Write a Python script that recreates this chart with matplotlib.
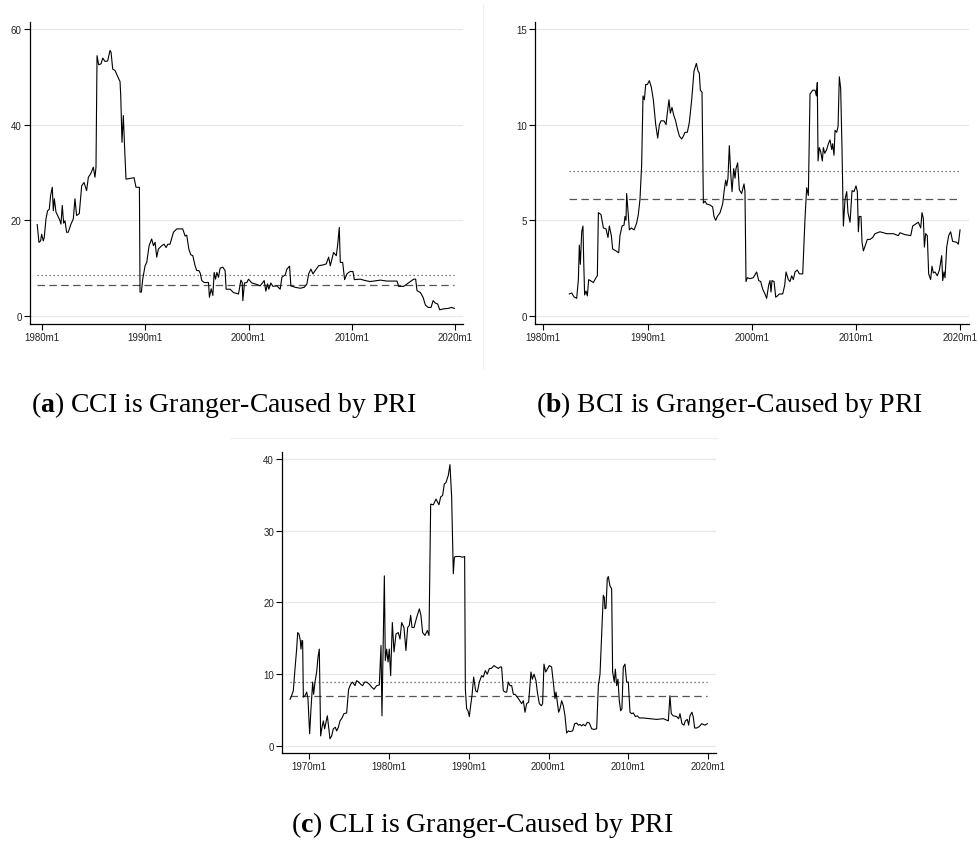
import matplotlib
matplotlib.use("Agg")
import matplotlib.pyplot as plt
from matplotlib.lines import Line2D

plt.rcParams["font.family"] = "Liberation Sans"
plt.rcParams["mathtext.fontset"] = "custom"
plt.rcParams["mathtext.rm"] = "Liberation Serif"
plt.rcParams["mathtext.bf"] = "Liberation Serif:bold"

# (a) CCI is Granger-Caused by PRI  (decimal year, test statistic)
cci_year = [1979.51, 1979.68, 1979.84, 1979.94, 1980.10, 1980.19, 1980.36, 1980.52, 1980.68, 1980.81,
            1980.97, 1981.07, 1981.17, 1981.33, 1981.49, 1981.72, 1981.81, 1981.94, 1982.07, 1982.20,
            1982.36, 1982.52, 1982.78, 1983.01, 1983.17, 1983.33, 1983.59, 1983.82, 1984.05, 1984.30,
            1984.47, 1984.69, 1984.95, 1985.11, 1985.21, 1985.31, 1985.47, 1985.70, 1985.86, 1986.08,
            1986.34, 1986.57, 1986.67, 1986.83, 1987.06, 1987.28, 1987.54, 1987.61, 1987.73, 1987.86,
            1987.99, 1988.12, 1988.67, 1988.90, 1989.09, 1989.42, 1989.48, 1989.61, 1989.74, 1989.97,
            1990.13, 1990.36, 1990.61, 1990.78, 1990.94, 1991.10, 1991.26, 1991.59, 1991.81, 1992.01,
            1992.17, 1992.39, 1992.72, 1993.04, 1993.62, 1993.85, 1994.01, 1994.21, 1994.40, 1994.60,
            1994.82, 1994.98, 1995.18, 1995.31, 1995.47, 1995.70, 1996.12, 1996.21, 1996.38, 1996.54,
            1996.67, 1996.80, 1996.93, 1997.09, 1997.25, 1997.51, 1997.73, 1997.83, 1998.22, 1998.54,
            1999.03, 1999.26, 1999.39, 1999.45, 1999.61, 1999.84, 2000.00, 2000.32, 2000.81, 2001.13,
            2001.52, 2001.68, 2001.84, 2001.97, 2002.17, 2002.36, 2002.75, 2003.07, 2003.24, 2003.56,
            2003.72, 2003.98, 2004.11, 2004.53, 2005.02, 2005.40, 2005.66, 2005.83, 2006.05, 2006.25,
            2006.47, 2006.80, 2007.28, 2007.54, 2007.77, 2007.93, 2008.25, 2008.51, 2008.64, 2008.80,
            2008.90, 2009.13, 2009.32, 2009.55, 2009.71, 2009.87, 2010.13, 2010.26, 2010.84, 2011.33,
            2011.81, 2012.78, 2013.43, 2014.40, 2014.56, 2015.05, 2015.37, 2016.02, 2016.21, 2016.34,
            2016.67, 2016.93, 2017.15, 2017.41, 2017.70, 2017.90, 2018.12, 2018.35, 2018.54, 2018.93,
            2019.42, 2019.64, 2019.97]
cci_stat = [19.1, 15.4, 15.7, 17.1, 15.7, 16.4, 20.3, 22.0, 22.3, 25.2,
            26.9, 22.0, 24.5, 21.7, 21.0, 19.9, 19.2, 23.1, 19.4, 19.9,
            17.5, 17.5, 19.2, 20.3, 24.5, 21.0, 21.4, 27.2, 27.9, 26.2,
            29.0, 29.7, 31.1, 29.0, 31.1, 54.4, 52.5, 52.7, 53.9, 53.2,
            53.3, 55.5, 55.1, 51.6, 51.3, 50.2, 49.0, 46.0, 36.3, 41.9,
            34.9, 28.6, 28.8, 28.9, 26.9, 26.9, 5.0, 5.0, 7.7, 10.5,
            11.2, 14.7, 16.1, 14.7, 15.4, 12.3, 14.0, 14.7, 15.0, 14.3,
            15.0, 15.0, 17.5, 18.2, 18.2, 16.7, 16.9, 14.0, 12.8, 12.6,
            10.5, 9.5, 9.5, 9.0, 7.4, 7.0, 7.0, 3.9, 5.7, 4.3,
            9.1, 7.7, 9.1, 8.1, 10.0, 10.2, 9.5, 5.6, 5.6, 4.9,
            4.6, 7.5, 7.0, 3.2, 6.9, 7.0, 7.7, 6.9, 6.6, 6.3,
            7.4, 5.2, 6.7, 5.6, 6.9, 6.2, 6.3, 5.6, 8.1, 8.6,
            9.8, 10.4, 6.3, 6.0, 5.8, 6.0, 6.7, 8.8, 9.8, 8.8,
            9.5, 10.5, 10.7, 10.9, 12.3, 10.5, 13.3, 12.6, 14.7, 18.5,
            11.2, 11.2, 7.6, 8.8, 9.1, 9.3, 9.3, 7.6, 7.7, 7.4,
            7.2, 7.5, 7.3, 7.3, 6.2, 6.2, 6.7, 7.7, 7.7, 5.3,
            4.9, 3.9, 2.3, 1.8, 1.8, 3.2, 2.7, 2.5, 1.3, 1.5,
            1.6, 1.8, 1.6]

# (b) BCI is Granger-Caused by PRI
bci_year = [1982.49, 1982.72, 1982.94, 1983.20, 1983.36, 1983.45, 1983.55, 1983.68, 1983.80, 1983.87,
            1983.96, 1984.09, 1984.22, 1984.35, 1984.64, 1984.80, 1985.05, 1985.18, 1985.28, 1985.53,
            1985.76, 1986.01, 1986.20, 1986.33, 1986.52, 1986.65, 1986.97, 1987.23, 1987.35, 1987.55,
            1987.74, 1987.83, 1987.93, 1987.99, 1988.12, 1988.25, 1988.44, 1988.70, 1988.95, 1989.11,
            1989.27, 1989.43, 1989.56, 1989.69, 1989.82, 1989.98, 1990.17, 1990.36, 1990.55, 1990.78,
            1990.97, 1991.13, 1991.29, 1991.57, 1991.77, 1991.89, 1992.05, 1992.18, 1992.34, 1992.50,
            1992.69, 1992.85, 1993.05, 1993.27, 1993.43, 1993.59, 1993.81, 1994.00, 1994.23, 1994.45,
            1994.68, 1994.84, 1994.96, 1995.06, 1995.22, 1995.35, 1995.51, 1995.67, 1995.99, 1996.24,
            1996.37, 1996.53, 1996.69, 1996.95, 1997.20, 1997.36, 1997.49, 1997.59, 1997.71, 1997.84,
            1997.97, 1998.10, 1998.26, 1998.39, 1998.48, 1998.64, 1998.80, 1999.02, 1999.25, 1999.34,
            1999.44, 1999.57, 1999.82, 2000.14, 2000.46, 2000.66, 2000.85, 2001.04, 2001.26, 2001.42,
            2001.61, 2001.74, 2001.84, 2001.93, 2002.13, 2002.29, 2002.45, 2002.64, 2002.96, 2003.15,
            2003.28, 2003.50, 2003.66, 2003.82, 2003.98, 2004.14, 2004.36, 2004.56, 2004.88, 2005.10,
            2005.26, 2005.42, 2005.58, 2005.84, 2006.06, 2006.19, 2006.28, 2006.35, 2006.47, 2006.60,
            2006.76, 2006.86, 2006.99, 2007.18, 2007.34, 2007.50, 2007.66, 2007.75, 2007.88, 2007.98,
            2008.14, 2008.27, 2008.39, 2008.52, 2008.65, 2008.78, 2008.94, 2009.10, 2009.22, 2009.42,
            2009.61, 2009.80, 2009.99, 2010.12, 2010.22, 2010.31, 2010.47, 2010.57, 2010.70, 2010.89,
            2011.08, 2011.33, 2011.59, 2011.81, 2012.29, 2012.93, 2013.57, 2014.05, 2014.21, 2014.69,
            2015.24, 2015.43, 2015.97, 2016.20, 2016.32, 2016.45, 2016.55, 2016.67, 2016.83, 2016.96,
            2017.15, 2017.28, 2017.41, 2017.57, 2017.79, 2017.99, 2018.21, 2018.31, 2018.43, 2018.53,
            2018.69, 2018.88, 2019.07, 2019.26, 2019.65, 2019.81, 2019.97]
bci_stat = [1.15, 1.2, 1.0, 0.92, 1.9, 3.7, 2.7, 4.4, 4.7, 2.9,
            1.1, 1.3, 1.05, 1.9, 1.8, 1.75, 2.0, 2.1, 5.4, 5.3,
            4.6, 4.55, 4.1, 4.7, 4.2, 3.5, 3.4, 3.3, 4.2, 4.7,
            4.75, 5.2, 5.0, 6.4, 5.5, 4.5, 4.6, 4.5, 4.85, 5.3,
            6.1, 7.9, 11.5, 11.3, 12.1, 12.1, 12.3, 11.95, 11.3, 10.0,
            9.3, 10.0, 10.2, 10.2, 10.0, 10.6, 11.3, 10.6, 10.9, 10.5,
            10.2, 9.8, 9.4, 9.25, 9.4, 9.6, 9.6, 10.1, 11.3, 12.8,
            13.2, 12.8, 12.7, 11.8, 11.7, 5.9, 6.0, 5.85, 5.8, 5.7,
            5.2, 5.0, 5.2, 5.4, 5.85, 6.6, 7.1, 6.8, 7.2, 8.9,
            7.5, 6.5, 7.7, 7.2, 7.7, 8.0, 6.6, 6.4, 6.9, 6.5,
            1.8, 2.0, 1.95, 2.0, 2.3, 1.85, 1.8, 1.4, 1.15, 0.92,
            1.6, 1.85, 1.25, 1.85, 1.8, 0.98, 1.05, 1.15, 1.15, 1.6,
            2.3, 1.9, 1.8, 2.1, 1.9, 2.3, 2.4, 2.2, 2.2, 5.1,
            6.7, 6.3, 11.6, 11.8, 11.8, 11.5, 12.2, 8.1, 8.8, 8.6,
            8.1, 8.8, 8.5, 8.7, 9.0, 9.2, 8.7, 9.0, 8.4, 9.7,
            9.6, 9.9, 12.5, 11.9, 8.7, 4.7, 6.1, 6.5, 5.4, 4.9,
            6.55, 6.5, 6.8, 6.5, 4.4, 5.2, 5.2, 3.85, 3.4, 3.7,
            4.0, 4.0, 4.1, 4.3, 4.4, 4.3, 4.3, 4.2, 4.35, 4.25,
            4.2, 4.7, 4.9, 4.6, 5.4, 5.1, 3.6, 4.3, 4.2, 2.2,
            1.9, 2.6, 2.25, 2.3, 2.1, 2.4, 3.15, 1.85, 2.3, 2.0,
            3.6, 4.2, 4.4, 3.9, 3.85, 3.75, 4.5]

# (c) CLI is Granger-Caused by PRI
cli_year = [1967.58, 1967.78, 1967.99, 1968.20, 1968.41, 1968.54, 1968.70, 1968.87, 1968.95, 1969.08,
            1969.16, 1969.25, 1969.46, 1969.67, 1969.83, 1970.04, 1970.21, 1970.42, 1970.54, 1970.71,
            1970.92, 1971.09, 1971.25, 1971.42, 1971.59, 1971.76, 1971.92, 1972.09, 1972.26, 1972.42,
            1972.59, 1972.80, 1973.01, 1973.26, 1973.43, 1973.64, 1973.85, 1974.10, 1974.35, 1974.68,
            1974.93, 1975.18, 1975.43, 1975.73, 1975.94, 1976.19, 1976.44, 1976.69, 1976.94, 1977.19,
            1977.53, 1977.82, 1978.11, 1978.44, 1978.78, 1978.99, 1979.11, 1979.20, 1979.41, 1979.53,
            1979.70, 1979.87, 1980.03, 1980.20, 1980.41, 1980.62, 1980.87, 1981.16, 1981.37, 1981.58,
            1981.87, 1982.12, 1982.33, 1982.54, 1982.71, 1982.88, 1983.13, 1983.46, 1983.80, 1984.00,
            1984.21, 1984.51, 1984.80, 1985.01, 1985.22, 1985.55, 1985.89, 1986.26, 1986.47, 1986.72,
            1986.93, 1987.14, 1987.43, 1987.64, 1987.85, 1988.06, 1988.19, 1988.39, 1988.90, 1989.23,
            1989.48, 1989.57, 1989.73, 1989.90, 1990.07, 1990.23, 1990.40, 1990.61, 1990.86, 1991.07,
            1991.32, 1991.61, 1991.82, 1992.07, 1992.32, 1992.58, 1992.83, 1993.16, 1993.41, 1993.70,
            1993.91, 1994.12, 1994.33, 1994.58, 1994.75, 1994.96, 1995.17, 1995.38, 1995.59, 1995.79,
            1996.09, 1996.34, 1996.63, 1996.84, 1997.05, 1997.26, 1997.51, 1997.80, 1997.97, 1998.18,
            1998.43, 1998.60, 1998.85, 1999.10, 1999.26, 1999.43, 1999.64, 1999.85, 2000.10, 2000.39,
            2000.60, 2000.81, 2000.94, 2001.10, 2001.27, 2001.44, 2001.65, 2001.86, 2002.07, 2002.27,
            2002.48, 2002.69, 2003.03, 2003.28, 2003.53, 2003.74, 2003.95, 2004.16, 2004.36, 2004.62,
            2004.87, 2005.12, 2005.41, 2005.70, 2006.04, 2006.25, 2006.46, 2006.66, 2006.87, 2007.00,
            2007.08, 2007.21, 2007.37, 2007.50, 2007.71, 2007.92, 2008.04, 2008.25, 2008.38, 2008.55,
            2008.71, 2008.88, 2009.05, 2009.21, 2009.38, 2009.59, 2009.80, 2010.01, 2010.22, 2010.43,
            2010.64, 2010.89, 2011.14, 2011.39, 2011.89, 2012.73, 2013.56, 2014.40, 2015.03, 2015.23,
            2015.40, 2015.65, 2016.07, 2016.32, 2016.49, 2016.74, 2016.99, 2017.16, 2017.41, 2017.58,
            2017.74, 2017.99, 2018.16, 2018.33, 2018.58, 2018.91, 2019.21, 2019.62, 2019.92]
cli_stat = [6.5, 7.0, 7.7, 10.7, 13.5, 15.8, 15.6, 14.7, 13.5, 14.7,
            14.6, 6.8, 7.0, 7.5, 6.6, 1.7, 5.2, 8.9, 7.2, 8.9,
            10.3, 12.4, 13.5, 1.4, 2.6, 3.5, 2.4, 3.3, 4.2, 2.6,
            1.0, 1.4, 2.4, 2.6, 2.1, 2.6, 3.5, 3.9, 4.5, 4.6,
            7.9, 8.6, 8.9, 8.4, 9.1, 8.9, 8.6, 8.4, 8.9, 8.9,
            8.6, 8.2, 7.9, 8.4, 8.5, 14.0, 4.2, 10.0, 23.7, 11.9,
            13.5, 11.7, 13.5, 9.8, 17.2, 13.1, 15.6, 15.8, 14.9, 17.2,
            16.5, 13.3, 16.5, 16.8, 18.2, 16.5, 16.5, 17.9, 19.1, 18.2,
            15.8, 15.4, 16.1, 15.4, 33.7, 33.6, 34.4, 33.6, 34.7, 34.9,
            36.5, 36.7, 37.7, 39.2, 34.7, 24.0, 26.3, 26.4, 26.4, 26.3,
            26.4, 7.9, 5.2, 4.9, 4.1, 5.6, 7.0, 9.6, 7.7, 7.5,
            8.9, 9.8, 9.6, 10.5, 10.0, 10.8, 10.8, 11.2, 11.0, 10.8,
            11.0, 11.0, 7.7, 7.5, 7.5, 8.9, 8.4, 8.4, 7.2, 7.2,
            6.8, 6.4, 5.9, 6.3, 4.7, 5.9, 6.1, 10.3, 9.3, 10.0,
            9.1, 7.5, 5.9, 5.6, 5.9, 11.4, 10.3, 10.7, 11.2, 11.0,
            8.9, 6.6, 7.5, 6.1, 4.7, 5.2, 6.3, 5.6, 4.2, 1.8,
            2.1, 2.0, 2.1, 3.1, 3.2, 2.9, 3.0, 2.8, 3.0, 2.8,
            3.3, 3.2, 2.4, 2.3, 2.4, 8.4, 10.0, 15.4, 21.0, 20.7,
            19.1, 19.2, 23.3, 23.6, 22.3, 21.9, 10.3, 8.9, 10.7, 8.4,
            9.3, 6.3, 4.9, 5.2, 11.0, 11.4, 8.9, 8.9, 4.7, 4.5,
            4.6, 4.1, 4.2, 3.9, 3.9, 3.8, 3.7, 3.8, 3.5, 7.0,
            4.5, 4.2, 4.1, 3.8, 4.5, 3.1, 2.9, 3.5, 3.7, 2.9,
            4.2, 4.7, 4.0, 2.5, 2.5, 2.7, 3.1, 2.9, 3.1]

# critical values (dotted = 5%, dashed = 10%)
cci_crit = [8.63, 6.55]
bci_crit = [7.58, 6.12]
cli_crit = [8.98, 6.93]

year_ticks_ab = [1980, 1990, 2000, 2010, 2020]
year_ticks_c = [1970, 1980, 1990, 2000, 2010, 2020]

captions = ["a", "b", "c"]
caption_text = ["CCI is Granger-Caused by PRI", "BCI is Granger-Caused by PRI",
                "CLI is Granger-Caused by PRI"]


def stata_panel(ax, years, stats, crit, xticks, yticks, xlim, ylim, dash_end=None):
    ax.set_xlim(*xlim)
    ax.set_ylim(*ylim)
    for yv in yticks:
        ax.axhline(yv, color="#e8e8e8", lw=0.9, zorder=0)
    ax.plot(years, stats, color="black", lw=0.8, zorder=3)
    x0, x1 = years[0], years[-1]
    ax.plot([x0, x1], [crit[0], crit[0]], color="#555555", lw=0.9,
            linestyle=(0, (1, 2.2)), zorder=2)
    ax.plot([x0, dash_end or x1], [crit[1], crit[1]], color="#555555", lw=0.9,
            linestyle=(0, (6, 3.5)), zorder=2)
    ax.set_xticks(xticks)
    ax.set_xticklabels([f"{y}m1" for y in xticks])
    ax.set_yticks(yticks)
    ax.set_yticklabels([str(y) for y in yticks])
    ax.tick_params(labelsize=7, length=4, width=0.8, pad=2, colors="black",
                   labelcolor="#222222")
    for side in ["top", "right"]:
        ax.spines[side].set_visible(False)
    for side in ["left", "bottom"]:
        ax.spines[side].set_linewidth(0.9)


fig = plt.figure(figsize=(9.77, 8.45), dpi=100)
W, H = 977, 845


def add_axes(left, right, top, bottom):
    return fig.add_axes([left / W, 1 - bottom / H, (right - left) / W, (bottom - top) / H])


ax_a = add_axes(30, 463, 22.7, 325)
stata_panel(ax_a, cci_year, cci_stat, cci_crit, year_ticks_ab, [0, 20, 40, 60],
            (1978.81, 2020.8), (-1.67, 61.5))

ax_b = add_axes(535, 969, 22.7, 325)
stata_panel(ax_b, bci_year, bci_stat, bci_crit, year_ticks_ab, [0, 5, 10, 15],
            (1979.2, 2020.83), (-0.42, 15.38), dash_end=2019.65)

ax_c = add_axes(282.3, 715.7, 452.7, 754)
stata_panel(ax_c, cli_year, cli_stat, cli_crit, year_ticks_c, [0, 10, 20, 30, 40],
            (1966.61, 2020.97), (-0.98, 41.0))

# faint subfigure borders
fig.add_artist(Line2D([483 / W, 483 / W], [1 - 5 / H, 1 - 370 / H], color="#f0f0f0", lw=0.8))
fig.add_artist(Line2D([230 / W, 717 / W], [1 - 439 / H, 1 - 439 / H], color="#f0f0f0", lw=0.8))

# captions
cap_pos = [(224, 412), (730, 412), (482, 832)]
for (cx, cy), lab, txt in zip(cap_pos, captions, caption_text):
    fig.text(cx / W, 1 - cy / H, rf"($\mathbf{{{lab}}}$) {txt}", ha="center", va="baseline",
             fontsize=20, family="Liberation Serif")

plt.savefig("out.png", dpi=100)
plt.close()
